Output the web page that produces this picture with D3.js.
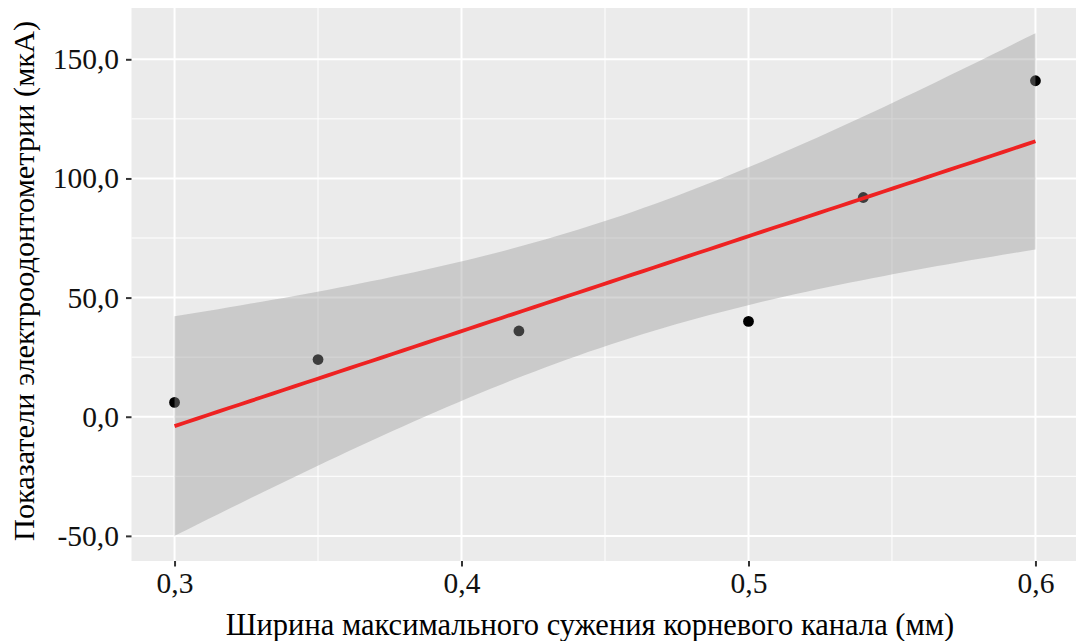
<!DOCTYPE html>
<html>
<head>
<meta charset="utf-8">
<script src="https://cdn.jsdelivr.net/npm/d3@7"></script>
<style>
  html, body { margin: 0; padding: 0; background: #fff; }
  svg { display: block; }
  text { font-family: "Liberation Serif", "DejaVu Serif", serif; }
</style>
</head>
<body>
<svg id="chart" width="1076" height="641"></svg>
<script>
// Observations: canal constriction width (mm) vs. EOD reading (µA)
const widths = [0.30, 0.35, 0.42, 0.50, 0.54, 0.60];
const eodValues = [6, 24, 36, 40, 92, 141];

const xTicks = [0.3, 0.4, 0.5, 0.6];
const xMinor = [0.35, 0.45, 0.55];
const yTicks = [-50, 0, 50, 100, 150];
const yMinor = [-25, 25, 75, 125];

const xTitle = "Ширина максимального сужения корневого канала (мм)";
const yTitle = "Показатели электроодонтометрии (мкА)";

// Student t quantile, 0.975, df = n - 2 = 4 (95% confidence band)
const tCrit = 2.776445;

const fmt = v => d3.format(".1f")(v).replace(".", ",").replace("−", "-");
const fmtX = v => d3.format(".1f")(v).replace(".", ",");

// --- ordinary least squares fit with confidence band ---
const n = widths.length;
const xMean = d3.mean(widths), yMean = d3.mean(eodValues);
const sxx = d3.sum(widths, x => (x - xMean) ** 2);
const sxy = d3.sum(widths.map((x, i) => (x - xMean) * (eodValues[i] - yMean)));
const slope = sxy / sxx;
const intercept = yMean - slope * xMean;
const sse = d3.sum(widths.map((x, i) => (eodValues[i] - (intercept + slope * x)) ** 2));
const sigma = Math.sqrt(sse / (n - 2));

const [xLo, xHi] = d3.extent(widths);
const fitPts = d3.range(80).map(i => {
  const x = xLo + (xHi - xLo) * i / 79;
  const y = intercept + slope * x;
  const se = sigma * Math.sqrt(1 / n + (x - xMean) ** 2 / sxx);
  return { x, y, lo: y - tCrit * se, hi: y + tCrit * se };
});

// --- layout ---
const svg = d3.select("#chart");
const panel = { left: 131.5, right: 1078.5, top: 8, bottom: 561 };

const xPad = (xHi - xLo) * 0.05;
const x = d3.scaleLinear().domain([xLo - xPad, xHi + xPad]).range([panel.left, panel.right]);

const yMinData = Math.min(d3.min(fitPts, d => d.lo), d3.min(eodValues));
const yMaxData = Math.max(d3.max(fitPts, d => d.hi), d3.max(eodValues));
const yPad = (yMaxData - yMinData) * 0.05;
const y = d3.scaleLinear().domain([yMinData - yPad, yMaxData + yPad]).range([panel.bottom, panel.top]);

// panel background
svg.append("rect")
  .attr("x", panel.left).attr("y", panel.top)
  .attr("width", panel.right - panel.left).attr("height", panel.bottom - panel.top)
  .attr("fill", "#EBEBEB");

const grid = svg.append("g");
// minor grid
grid.selectAll(".ymin").data(yMinor).join("line")
  .attr("x1", panel.left).attr("x2", panel.right)
  .attr("y1", d => y(d)).attr("y2", d => y(d))
  .attr("stroke", "#fff").attr("stroke-width", 1);
grid.selectAll(".xmin").data(xMinor).join("line")
  .attr("y1", panel.top).attr("y2", panel.bottom)
  .attr("x1", d => x(d)).attr("x2", d => x(d))
  .attr("stroke", "#fff").attr("stroke-width", 1);
// major grid
grid.selectAll(".ymaj").data(yTicks).join("line")
  .attr("x1", panel.left).attr("x2", panel.right)
  .attr("y1", d => y(d)).attr("y2", d => y(d))
  .attr("stroke", "#fff").attr("stroke-width", 2);
grid.selectAll(".xmaj").data(xTicks).join("line")
  .attr("y1", panel.top).attr("y2", panel.bottom)
  .attr("x1", d => x(d)).attr("x2", d => x(d))
  .attr("stroke", "#fff").attr("stroke-width", 2);

// points (drawn under the translucent band)
svg.append("g").selectAll("circle").data(widths).join("circle")
  .attr("cx", d => x(d))
  .attr("cy", (d, i) => y(eodValues[i]))
  .attr("r", 5.4)
  .attr("fill", "#000");

// confidence band
svg.append("path")
  .datum(fitPts)
  .attr("d", d3.area().x(d => x(d.x)).y0(d => y(d.lo)).y1(d => y(d.hi)))
  .attr("fill", "#999999").attr("fill-opacity", 0.4);

// regression line
svg.append("path")
  .datum(fitPts)
  .attr("d", d3.line().x(d => x(d.x)).y(d => y(d.y)))
  .attr("fill", "none").attr("stroke", "#EE2222").attr("stroke-width", 3.8);

// axes
const xAxis = d3.axisBottom(x).tickValues(xTicks).tickFormat(fmtX).tickSize(5.5).tickPadding(6);
const gx = svg.append("g").attr("transform", `translate(0,${panel.bottom})`).call(xAxis);
gx.select(".domain").remove();
gx.selectAll(".tick line").attr("stroke", "#333").attr("stroke-width", 2);
gx.selectAll(".tick text").attr("fill", "#111").attr("font-size", 29.5)
  .attr("font-family", "Liberation Serif");

const yAxis = d3.axisLeft(y).tickValues(yTicks).tickFormat(fmt).tickSize(5.5).tickPadding(7);
const gy = svg.append("g").attr("transform", `translate(${panel.left},0)`).call(yAxis);
gy.select(".domain").remove();
gy.selectAll(".tick line").attr("stroke", "#333").attr("stroke-width", 2);
gy.selectAll(".tick text").attr("fill", "#111").attr("font-size", 29.5)
  .attr("font-family", "Liberation Serif");

// axis titles
svg.append("text")
  .attr("x", 590).attr("y", 635)
  .attr("text-anchor", "middle").attr("font-size", 30.5).attr("fill", "#000")
  .text(xTitle);

svg.append("text")
  .attr("transform", `translate(34,281) rotate(-90)`)
  .attr("text-anchor", "middle").attr("font-size", 30.3).attr("fill", "#000")
  .text(yTitle);
</script>
</body>
</html>
